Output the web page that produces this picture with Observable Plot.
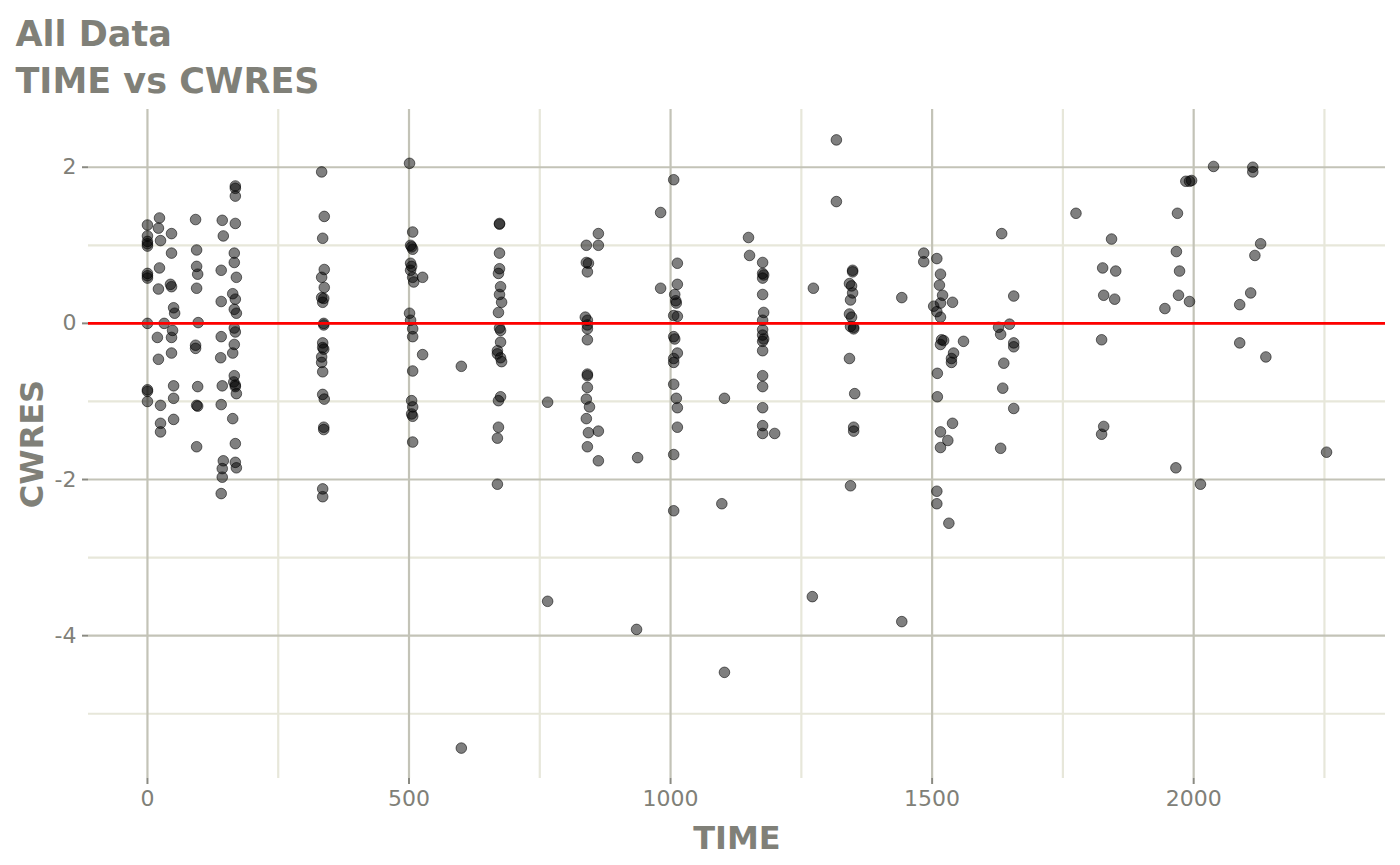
<!DOCTYPE html>
<html>
<head>
<meta charset="utf-8">
<script src="https://cdn.jsdelivr.net/npm/d3@7"></script>
<script src="https://cdn.jsdelivr.net/npm/@observablehq/plot@0.6"></script>
<style>
  html, body { margin: 0; padding: 0; background: #ffffff; }
  #chart svg { display: block; }
</style>
</head>
<body>
<div id="chart"></div>
<script>
// ---- data ----
const title = "All Data";
const subtitle = "TIME vs CWRES";
const xLabel = "TIME";
const yLabel = "CWRES";
const xMajorTicks = [0, 500, 1000, 1500, 2000];
const xMinorTicks = [250, 750, 1250, 1750, 2250];
const yMajorTicks = [-4, -2, 0, 2];
const yMinorTicks = [-5, -3, -1, 1];
const refLine = [0];

const time = [
  0,0,0,0,0,0,0,0,0,0,0,0,
  23,21,25,46,46,23,21,44,46,50,52,32,48,19,46,21,46,50,25,50,50,25,25,
  92,94,94,96,94,97,92,92,96,94,96,94,
  143,145,141,141,141,140,143,141,145,143,143,141,
  168,168,168,168,166,166,170,163,168,166,170,166,168,166,163,166,165,168,168,170,163,168,168,170,
  333,338,335,338,333,338,333,337,335,337,337,335,335,337,333,333,335,335,338,337,337,335,335,
  501,507,503,505,507,503,505,503,507,509,526,501,503,507,507,526,507,505,507,505,507,507,
  600,600,
  673,673,673,673,671,675,673,677,671,673,675,675,669,669,675,677,675,671,671,669,669,
  765,765,
  862,839,862,839,843,841,837,841,841,841,841,841,841,841,839,845,839,843,862,841,862,
  937,935,981,981,
  1006,1013,1013,1008,1010,1011,1006,1013,1006,1008,1013,1006,1006,1006,1011,1013,1013,1006,1006,
  1103,1098,1103,
  1149,1151,1176,1176,1178,1176,1176,1178,1176,1176,1176,1178,1176,1176,1176,1176,1176,1176,1176,1199,
  1317,1317,1273,1271,
  1348,1348,1342,1346,1348,1344,1342,1346,1344,1350,1350,1342,1352,1350,1350,1344,
  1442,1442,
  1484,1484,1509,1516,1514,1520,1539,1516,1503,1509,1516,1518,1516,1522,1560,1541,1537,1537,1510,1510,1539,1516,1530,1516,1509,1509,1532,
  1633,1656,1648,1627,1631,1656,1656,1637,1635,1656,1631,
  1775,
  1843,1826,1851,1828,1849,1824,1828,1824,
  2038,1985,1992,1996,1969,1967,1973,1971,1992,1945,1966,2013,
  2088,2088,2113,2113,2128,2117,2109,2138,2254
];
const cwres = [
  1.26,1.12,1.05,1.02,0.99,0.64,0.61,0.58,0,-0.85,-0.87,-1.0,
  1.35,1.22,1.06,1.15,0.9,0.71,0.44,0.5,0.47,0.2,0.13,0.0,-0.09,-0.18,-0.18,-0.46,-0.38,-0.8,-1.05,-0.96,-1.23,-1.28,-1.39,
  1.33,0.94,0.73,0.63,0.45,0.01,-0.28,-0.32,-0.81,-1.05,-1.06,-1.58,
  1.32,1.12,0.68,0.28,-0.17,-0.44,-0.8,-1.04,-1.76,-1.86,-1.97,-2.18,
  1.76,1.73,1.63,1.28,0.9,0.78,0.59,0.38,0.31,0.18,0.13,-0.06,-0.11,-0.27,-0.38,-0.67,-0.75,-0.79,-0.81,-0.9,-1.22,-1.54,-1.78,-1.85,
  1.94,1.37,1.09,0.69,0.59,0.46,0.33,0.32,0.27,0.0,-0.02,-0.25,-0.31,-0.33,-0.43,-0.5,-0.62,-0.91,-0.97,-1.33,-1.36,-2.12,-2.22,
  2.05,1.17,1.0,0.98,0.95,0.77,0.73,0.68,0.59,0.53,0.59,0.13,0.04,-0.07,-0.17,-0.4,-0.61,-0.99,-1.07,-1.16,-1.19,-1.52,
  -0.55,-5.44,
  1.28,1.27,0.9,0.7,0.64,0.47,0.37,0.27,0.14,-0.06,-0.09,-0.24,-0.35,-0.39,-0.44,-0.49,-0.94,-0.99,-1.33,-1.47,-2.06,
  -1.01,-3.56,
  1.15,1.0,1.0,0.78,0.77,0.66,0.08,0.04,-0.02,-0.07,-0.21,-0.65,-0.67,-0.82,-0.97,-1.07,-1.22,-1.4,-1.38,-1.58,-1.76,
  -1.72,-3.92,1.42,0.45,
  1.84,0.77,0.5,0.37,0.29,0.26,0.1,0.09,-0.17,-0.2,-0.38,-0.45,-0.5,-0.78,-0.96,-1.08,-1.33,-1.68,-2.4,
  -0.96,-2.31,-4.47,
  1.1,0.87,0.78,0.64,0.62,0.58,0.37,0.14,0.04,-0.08,-0.15,-0.2,-0.23,-0.35,-0.67,-0.81,-1.08,-1.31,-1.41,-1.41,
  2.35,1.56,0.45,-3.5,
  0.68,0.66,0.51,0.48,0.39,0.3,0.12,0.08,-0.04,-0.05,-0.07,-0.45,-0.9,-1.33,-1.38,-2.08,
  0.33,-3.82,
  0.9,0.79,0.83,0.63,0.49,0.36,0.27,0.26,0.22,0.15,0.08,-0.21,-0.27,-0.22,-0.23,-0.38,-0.45,-0.5,-0.64,-0.94,-1.28,-1.39,-1.5,-1.59,-2.15,-2.31,-2.56,
  1.15,0.35,-0.01,-0.05,-0.14,-0.25,-0.3,-0.51,-0.83,-1.09,-1.6,
  1.41,
  1.08,0.71,0.67,0.36,0.31,-0.21,-1.32,-1.42,
  2.01,1.82,1.82,1.83,1.41,0.92,0.67,0.36,0.28,0.19,-1.85,-2.06,
  0.24,-0.25,2.0,1.94,1.02,0.87,0.39,-0.43,-1.65
];

const points = time.map((t, i) => ({TIME: t, CWRES: cwres[i]}));

// ggplot-like 5% expansion of the data range
const xExt = d3.extent(time), yExt = d3.extent(cwres);
const xPad = (xExt[1] - xExt[0]) * 0.05, yPad = (yExt[1] - yExt[0]) * 0.05;

const textColor = "#808078";
const majorGrid = "#c3c3b7";
const minorGrid = "#e7e7da";
const font = "DejaVu Sans, sans-serif";

const chart = Plot.plot({
  width: 1400,
  height: 865,
  marginTop: 109,
  marginBottom: 87,
  marginLeft: 88,
  marginRight: 15,
  style: { fontFamily: font, background: "#ffffff", overflow: "visible" },
  x: { domain: [xExt[0] - xPad, xExt[1] + xPad] },
  y: { domain: [yExt[0] - yPad, yExt[1] + yPad] },
  marks: [
    Plot.gridX(xMinorTicks, { stroke: minorGrid, strokeOpacity: 1, strokeWidth: 2.2 }),
    Plot.gridY(yMinorTicks, { stroke: minorGrid, strokeOpacity: 1, strokeWidth: 2.2 }),
    Plot.gridX(xMajorTicks, { stroke: majorGrid, strokeOpacity: 1, strokeWidth: 2.2 }),
    Plot.gridY(yMajorTicks, { stroke: majorGrid, strokeOpacity: 1, strokeWidth: 2.2 }),
    Plot.axisX({ ticks: xMajorTicks, tickSize: 6, tickPadding: 6, label: null,
      tickFormat: d => String(d),
      stroke: "#8a8a82", strokeWidth: 2, fill: textColor, fontSize: 22 }),
    Plot.axisY({ ticks: yMajorTicks, tickSize: 6, tickPadding: 6, label: null,
      tickFormat: d => String(d).replace("\u2212", "-"),
      stroke: "#8a8a82", strokeWidth: 2, fill: textColor, fontSize: 22 }),
    Plot.dot(points, { x: "TIME", y: "CWRES", r: 5.3, fill: "black", fillOpacity: 0.5,
      stroke: "black", strokeOpacity: 0.55, strokeWidth: 1 }),
    Plot.ruleY(refLine, { stroke: "#ff0000", strokeWidth: 2.8 }),
    Plot.text([xLabel], { frameAnchor: "bottom", text: d => d, lineAnchor: "bottom", dy: 70,
      fontSize: 32, fontWeight: "bold", fill: textColor }),
    Plot.text([yLabel], { frameAnchor: "left", text: d => d, rotate: -90, dx: -56,
      textAnchor: "middle", lineAnchor: "middle",
      fontSize: 32, fontWeight: "bold", fill: textColor }),
    Plot.text([title], { frameAnchor: "top-left", text: d => d, textAnchor: "start", lineAnchor: "bottom",
      dx: -73, dy: -64, fontSize: 35, fontWeight: "bold", fill: textColor }),
    Plot.text([subtitle], { frameAnchor: "top-left", text: d => d, textAnchor: "start", lineAnchor: "bottom",
      dx: -73, dy: -17, fontSize: 35, fontWeight: "bold", fill: textColor })
  ]
});
document.getElementById("chart").appendChild(chart);
</script>
</body>
</html>
